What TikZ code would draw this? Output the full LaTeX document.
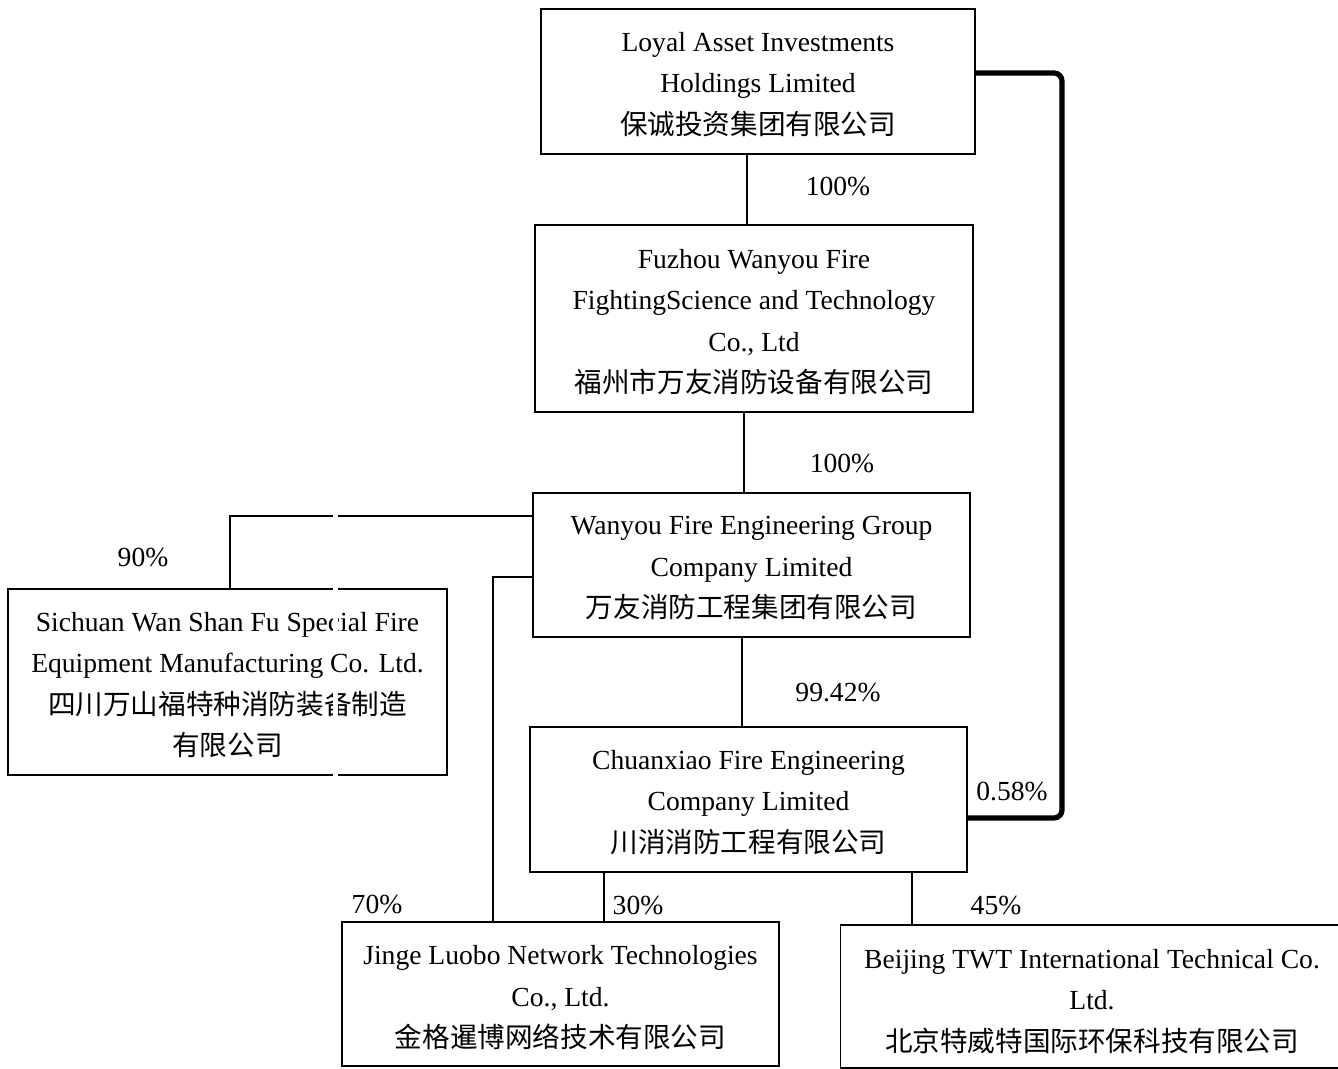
\documentclass[tikz,border=0pt]{standalone}
\usepackage{fontspec}
\setmainfont{Liberation Serif}
\newfontfamily\cjk{Noto Sans CJK SC}
\usetikzlibrary{calc}
\newcommand\topgap[1]{\rule{0pt}{#1}}
\begin{document}
\begin{tikzpicture}[x=0.5pt,y=-0.5pt,
  box/.style={draw, line width=0.9pt, inner sep=0pt, align=center,
    font=\fontsize{13.8}{20.75}\selectfont},
  conn/.style={draw, line width=0.9pt},
  pct/.style={font=\fontsize{13.8}{15}\selectfont, inner sep=0pt},
  thickconn/.style={draw, line width=2.6pt, rounded corners=4pt}]
\useasboundingbox (0,0) rectangle (1338,1069);
\fill[white] (0,0) rectangle (1338,1069);

\node[box, minimum width=217pt, minimum height=72.5pt] (loyal) at (758,81.5)
  {\topgap{12.6pt}Loyal Asset Investments\\Holdings Limited\\{\cjk 保诚投资集团有限公司}};
\node[box, minimum width=219pt, minimum height=93.5pt] (fuzhou) at (754,318.5)
  {\topgap{13.2pt}Fuzhou Wanyou Fire\\FightingScience and Technology\\Co., Ltd\\{\cjk 福州市万友消防设备有限公司}};
\node[box, minimum width=218.5pt, minimum height=72pt] (wanyou) at (751.5,565)
  {\topgap{12.6pt}Wanyou Fire Engineering Group\\Company Limited\\{\cjk 万友消防工程集团有限公司}};
\node[box, minimum width=219.5pt, minimum height=93pt] (sichuan) at (227.5,682)
  {\topgap{12.6pt}Sichuan Wan Shan Fu Special Fire\\Equipment Manufacturing Co. Ltd.\\{\cjk 四川万山福特种消防装备制造}\\{\cjk 有限公司}};
\node[box, minimum width=218.5pt, minimum height=72.5pt] (chuanxiao) at (748.5,799.5)
  {\topgap{12.6pt}Chuanxiao Fire Engineering\\Company Limited\\{\cjk 川消消防工程有限公司}};
\node[box, minimum width=218.5pt, minimum height=72pt] (jinge) at (560.5,994)
  {\topgap{13.4pt}Jinge Luobo Network Technologies\\Co., Ltd.\\{\cjk 金格暹博网络技术有限公司}};
\node[box, minimum width=251.5pt, minimum height=71.5pt] (beijing) at (1092,996.5)
  {\topgap{14.2pt}Beijing TWT International Technical Co.\\Ltd.\\{\cjk 北京特威特国际环保科技有限公司}};

\coordinate (a1) at (747,0);
\coordinate (a2) at (744,0);
\coordinate (a3) at (742,0);
\coordinate (a4) at (230,0);
\coordinate (a5) at (493,0);
\coordinate (a6) at (604,0);
\coordinate (a7) at (912,0);
\coordinate (h1) at (0,516);
\coordinate (h2) at (0,577);
\coordinate (t1) at (1062,73);
\coordinate (t2) at (1062,818);

\draw[conn] (a1 |- loyal.south) -- (a1 |- fuzhou.north);
\draw[conn] (a2 |- fuzhou.south) -- (a2 |- wanyou.north);
\draw[conn] (a3 |- wanyou.south) -- (a3 |- chuanxiao.north);
\draw[conn] (wanyou.west |- h1) -| (a4 |- sichuan.north);
\draw[conn] (wanyou.west |- h2) -| (a5 |- jinge.north);
\draw[conn] (a6 |- chuanxiao.south) -- (a6 |- jinge.north);
\draw[conn] (a7 |- chuanxiao.south) -- (a7 |- beijing.north);
\draw[thickconn] (loyal.east |- t1) -- (t1) -- (t2) -- (chuanxiao.east |- t2);

\node[pct] (p1) at (838,187) {100\%};
\node[pct] (p2) at (842,464) {100\%};
\node[pct] (p3) at (143,558) {90\%};
\node[pct] (p4) at (838,693) {99.42\%};
\node[pct] (p5) at (1012,792) {0.58\%};
\node[pct] (p6) at (377,904) {70\%};
\node[pct] (p7) at (638,905) {30\%};
\node[pct] (p8) at (996,905) {45\%};

\fill[white] (333,508) rectangle (338,642);
\fill[white] (333,684) rectangle (338,782);
\end{tikzpicture}
\end{document}
